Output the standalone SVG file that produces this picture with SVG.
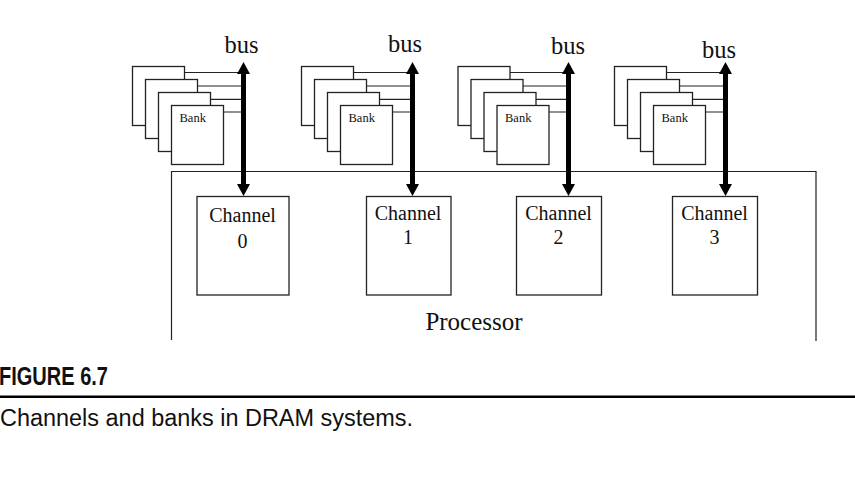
<svg xmlns="http://www.w3.org/2000/svg" width="855" height="493" viewBox="0 0 855 493">
<style>
.box{fill:#fff;stroke:#222;stroke-width:1.3}
.wire{fill:none;stroke:#222;stroke-width:1.2}
.bus{fill:none;stroke:#000;stroke-width:5;marker-start:url(#ah);marker-end:url(#ah)}
.serif{font-family:"Liberation Serif","Times New Roman",serif;fill:#111}
.bank{font-size:12.5px}
.ch{font-size:20px;text-anchor:middle}
.busl{font-size:24.5px;text-anchor:middle}
.sans{font-family:"Liberation Sans",Arial,sans-serif;fill:#111}
</style>
<defs>
<marker id="ah" markerUnits="userSpaceOnUse" viewBox="0 0 12 13" refX="0.5" refY="6.5" markerWidth="12" markerHeight="13" orient="auto-start-reverse">
<path d="M0,0 L12,6.5 L0,13 z" fill="#000"/>
</marker>
<g id="stack">
<rect class="box" x="0" y="0" width="52" height="59"/>
<rect class="box" x="13" y="13" width="52" height="59"/>
<rect class="box" x="26" y="26" width="52" height="59"/>
<rect class="box" x="39" y="39" width="52" height="59"/>
<text class="serif bank" x="47" y="55.5">Bank</text>
</g>
</defs>
<rect width="855" height="493" fill="#fff"/>

<g id="processor">
<path class="wire" d="M171.5,340 V171.5 H816 V341" stroke-width="1.3"/>
<text class="serif" x="474" y="330" font-size="25" text-anchor="middle">Processor</text>
</g>

<g id="banks0"><use href="#stack" x="132.5" y="66.5"/></g>
<g id="banks1"><use href="#stack" x="301.5" y="66.5"/></g>
<g id="banks2"><use href="#stack" x="458" y="66.5"/></g>
<g id="banks3"><use href="#stack" x="614.5" y="66.5"/></g>

<g id="channel0">
<rect class="box" x="197" y="196.5" width="92" height="98.5"/>
<text class="serif ch" x="242.5" y="221.5" font-size="22">Channel</text>
<text class="serif ch" x="242.5" y="248" font-size="22">0</text>
</g>
<g id="channel1">
<rect class="box" x="366.5" y="196.5" width="84.5" height="98.5"/>
<text class="serif ch" x="408" y="220">Channel</text>
<text class="serif ch" x="408" y="243.5">1</text>
</g>
<g id="channel2">
<rect class="box" x="516.5" y="196.5" width="85" height="98.5"/>
<text class="serif ch" x="558.5" y="220">Channel</text>
<text class="serif ch" x="558.5" y="243.5">2</text>
</g>
<g id="channel3">
<rect class="box" x="672.5" y="196.5" width="85" height="98.5"/>
<text class="serif ch" x="714.5" y="220">Channel</text>
<text class="serif ch" x="714.5" y="243.5">3</text>
</g>

<g id="bus-labels">
<text class="serif busl" x="241.5" y="52.5">bus</text>
<text class="serif busl" x="405" y="52">bus</text>
<text class="serif busl" x="568" y="54">bus</text>
<text class="serif busl" x="719" y="58">bus</text>
</g>

<g id="connectors">
<path class="wire" d="M184.5,72.5 H243.5 M197.5,86 H243.5 M210.5,99.3 H243.5 M223.5,112 H243.5"/>
<path class="wire" d="M353.5,72.5 H412.5 M366.5,86 H412.5 M379.5,99.3 H412.5 M392.5,112 H412.5"/>
<path class="wire" d="M510,72.5 H568.5 M523,86 H568.5 M536,99.3 H568.5 M549,112 H568.5"/>
<path class="wire" d="M666.5,72.5 H725.5 M679.5,86 H725.5 M692.5,99.3 H725.5 M705.5,112 H725.5"/>
<line class="bus" x1="243.5" y1="73.5" x2="243.5" y2="184.5"/>
<line class="bus" x1="412.5" y1="73.5" x2="412.5" y2="184.5"/>
<line class="bus" x1="568.5" y1="73.5" x2="568.5" y2="184.5"/>
<line class="bus" x1="725.5" y1="73.5" x2="725.5" y2="184.5"/>
</g>

<g id="caption">
<text class="sans" x="-1" y="384.5" font-size="25" font-weight="bold" textLength="109" lengthAdjust="spacingAndGlyphs">FIGURE 6.7</text>
<rect x="0" y="395.5" width="855" height="2.5" fill="#000"/>
<text class="sans" x="0" y="426" font-size="23" textLength="413" lengthAdjust="spacingAndGlyphs">Channels and banks in DRAM systems.</text>
</g>
</svg>
